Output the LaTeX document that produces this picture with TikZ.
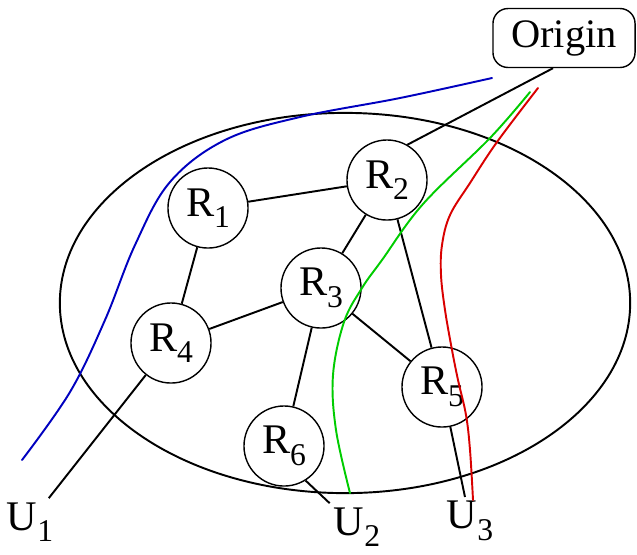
\documentclass[tikz,border=0pt]{standalone}
\usepackage{fontspec}
\setmainfont{Liberation Serif}
\usepackage{tikz}
\usetikzlibrary{positioning}

\newcommand{\lowidx}[1]{\raisebox{-0.6ex}{\small #1}}

\begin{document}
\begin{tikzpicture}[
    x=0.01cm, y=-0.01cm,
    router/.style={draw, circle, minimum size=0.8cm, inner sep=0pt, font=\fontsize{12}{14}\selectfont},
    user/.style={font=\fontsize{12}{14}\selectfont, inner sep=1pt},
    link/.style={line width=0.55pt},
    pathA/.style={line width=0.55pt, color=blue!75!black, line cap=round},
    pathB/.style={line width=0.55pt, color=green!80!black, line cap=round},
    pathC/.style={line width=0.55pt, color=red!85!black, line cap=round}
]
    \useasboundingbox (0,0) rectangle (637,554);

    % network boundary
    \draw[link] (345,303) ellipse [x radius=2.85cm, y radius=1.9cm];

    \node[draw, rounded corners=0.15cm, minimum width=1.42cm, minimum height=0.57cm, font=\fontsize{11.5}{13}\selectfont] (origin) at (564,38) {Origin};

    \node[router] (r1) at (208,208) {R\lowidx{1}};
    \node[router] (r2) at (387,180) {R\lowidx{2}};
    \node[router] (r3) at (321,288) {R\lowidx{3}};
    \node[router] (r4) at (171,343) {R\lowidx{4}};
    \node[router] (r5) at (442,387) {R\lowidx{5}};
    \node[router] (r6) at (284,446) {R\lowidx{6}};

    \node[user] (u1) at (30,522) {U\lowidx{1}};
    \node[user] (u2) at (357,527) {U\lowidx{2}};
    \node[user] (u3) at (470,521) {U\lowidx{3}};

    \draw[link] (origin.250) -- (r2.60);
    \draw[link] (r1) -- (r2);
    \draw[link] (r1) -- (r4);
    \draw[link] (r2) -- (r3);
    \draw[link] (r2) -- (r5);
    \draw[link] (r3) -- (r4);
    \draw[link] (r3) -- (r5);
    \draw[link] (r3) -- (r6);
    \draw[link] (r4) -- (u1);
    \draw[link] (r6.-58) -- (u2.north west);
    \draw[link] (r5) -- (u3);

    % routes towards the origin
    \draw[pathA] plot[smooth, tension=0.6] coordinates {(22,460) (70,392) (105,320) (135,245) (170,182) (225,140) (300,117) (400,98) (492,78)};
    \draw[pathB] plot[smooth, tension=0.6] coordinates {(350,493) (336,430) (333,375) (344,322) (362,288) (382,260) (423,204) (490,138) (530,92)};
    \draw[pathC] plot[smooth, tension=0.6] coordinates {(473,500) (470,450) (466,415) (458,380) (452,350) (445,310) (441,275) (442,245) (450,215) (470,183) (497,142) (538,88)};
\end{tikzpicture}
\end{document}
